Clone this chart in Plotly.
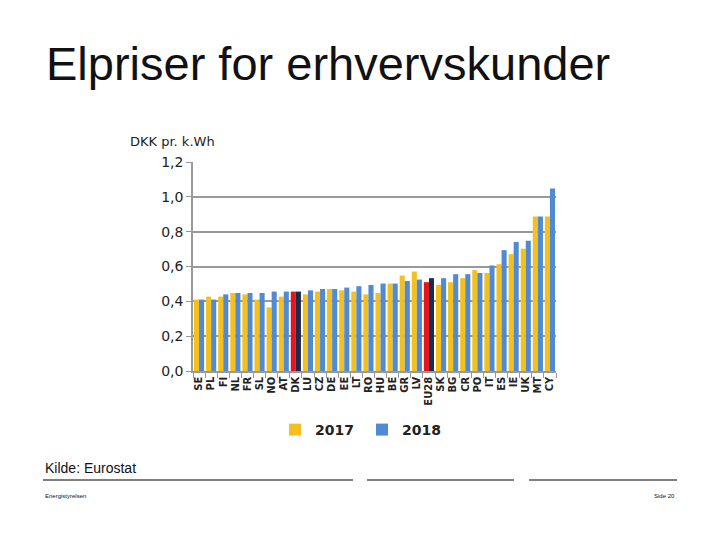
import plotly.graph_objects as go

countries = ["SE", "PL", "FI", "NL", "FR", "SL", "NO", "AT", "DK", "LU", "CZ", "DE", "EE", "LT", "RO",
             "HU", "BE", "GR", "LV", "EU28", "SK", "BG", "CR", "PO", "IT", "ES", "IE", "UK", "MT", "CY"]
v2017 = [0.41, 0.427, 0.427, 0.448, 0.44, 0.41, 0.365, 0.427, 0.456, 0.44, 0.456, 0.471, 0.463, 0.456, 0.44,
         0.448, 0.502, 0.548, 0.571, 0.51, 0.494, 0.51, 0.533, 0.579, 0.563, 0.613, 0.671, 0.702, 0.887, 0.887]
v2018 = [0.41, 0.41, 0.44, 0.448, 0.448, 0.448, 0.456, 0.456, 0.456, 0.463, 0.471, 0.471, 0.479, 0.487, 0.494,
         0.502, 0.502, 0.517, 0.525, 0.533, 0.533, 0.556, 0.556, 0.563, 0.606, 0.694, 0.740, 0.748, 0.887, 1.048]
highlight = ["DK", "EU28"]
y_ticks = [0.0, 0.2, 0.4, 0.6, 0.8, 1.0, 1.2]

YELLOW = "#F4C020"
BLUE = "#4F8AD2"
RED = "#E8141C"
NAVY = "#1B2B4B"

c17 = [RED if c in highlight else YELLOW for c in countries]
c18 = [NAVY if c in highlight else BLUE for c in countries]

W, H = 720, 540
L, R, T, B = 193, 556, 162, 371


def px(x):
    return (x - L) / (R - L)


def py(y):
    return (B - y) / (B - T)


fig = go.Figure()
fig.add_trace(go.Bar(x=countries, y=v2017, name="2017", marker=dict(color=c17, line_width=0)))
fig.add_trace(go.Bar(x=countries, y=v2018, name="2018", marker=dict(color=c18, line_width=0)))

fig.update_layout(
    width=W, height=H,
    margin=dict(l=L, r=W - R, t=T, b=H - B),
    paper_bgcolor="white", plot_bgcolor="white",
    barmode="group", bargap=0.16, bargroupgap=0.0,
    separators=",.",
    font=dict(family="DejaVu Sans", color="#222"),
    showlegend=True,
    legend=dict(orientation="h", x=px(362), y=py(430), xanchor="center", yanchor="middle",
                font=dict(family="DejaVu Sans", size=14, color="#222", weight="bold"),
                itemwidth=30, entrywidth=42, entrywidthmode="pixels", traceorder="normal"),
    xaxis=dict(type="category", categoryorder="array", categoryarray=countries,
               tickmode="array", tickvals=countries, ticktext=countries,
               tickangle=-90, tickfont=dict(family="DejaVu Sans", size=10, color="#222", weight="bold"),
               showline=True, linecolor="#999", linewidth=1.5,
               ticks="outside", tickson="boundaries", ticklen=5, tickcolor="#999",
               showgrid=False),
    yaxis=dict(range=[0, 1.2], tickvals=y_ticks, tickformat=".1f",
               tickfont=dict(family="DejaVu Sans", size=14, color="#222"),
               showgrid=True, gridcolor="#999", gridwidth=1.5,
               showline=True, linecolor="#999", linewidth=1.5,
               ticks="outside", ticklen=5, tickcolor="#999", zeroline=False),
)

ann = [
    dict(text="Elpriser for erhvervskunder", x=px(44), y=py(63), xanchor="left", yanchor="middle",
         font=dict(family="Liberation Sans, Arial", size=47, color="#111")),
    dict(text="DKK pr. k.Wh", x=px(128), y=py(141), xanchor="left", yanchor="middle",
         font=dict(family="DejaVu Sans", size=13, color="#222")),
    dict(text="Kilde: Eurostat", x=px(43), y=py(468), xanchor="left", yanchor="middle",
         font=dict(family="Liberation Sans, Arial", size=14, color="#111")),
    dict(text="Energistyrelsen", x=px(43), y=py(496), xanchor="left", yanchor="middle",
         font=dict(family="Liberation Sans, Arial", size=6, color="#111")),
    dict(text="Side 20", x=px(677), y=py(496), xanchor="right", yanchor="middle",
         font=dict(family="Liberation Sans, Arial", size=6, color="#111")),
]
for a in ann:
    a.update(xref="paper", yref="paper", showarrow=False)
fig.update_layout(annotations=ann)

for x0, x1 in [(43, 353), (367, 514), (529, 677)]:
    fig.add_shape(type="line", xref="paper", yref="paper", x0=px(x0), x1=px(x1), y0=py(480), y1=py(480),
                  line=dict(color="black", width=1.2))

fig.write_html("out.html", config={"displayModeBar": False},
               post_script="document.body.style.margin='0';document.body.style.padding='0';")
